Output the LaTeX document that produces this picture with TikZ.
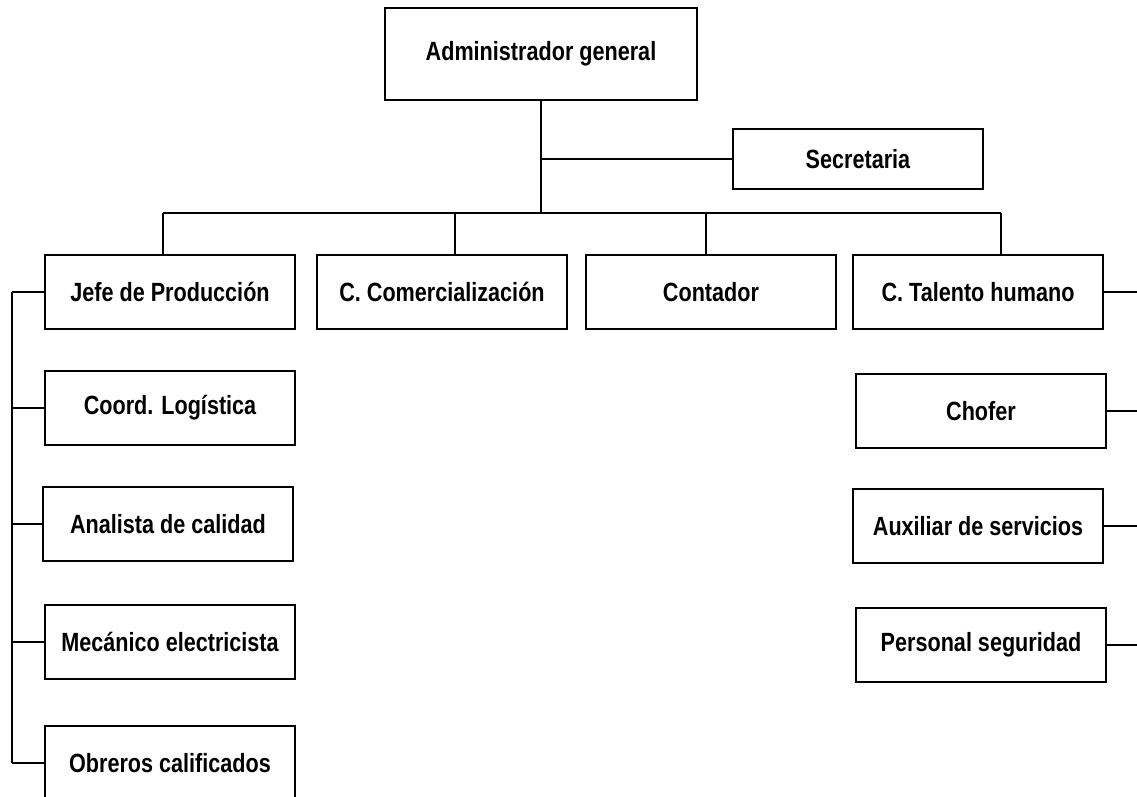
\documentclass[tikz,border=0pt]{standalone}
\usepackage{fontspec}
\setmainfont{Liberation Sans}[FakeStretch=0.82]
\begin{document}
\begin{tikzpicture}[x=0.02cm,y=-0.02cm,
    puesto/.style={draw,line width=1.1pt,inner sep=0pt,minimum width=5cm,
        minimum height=1.48cm,font=\fontsize{15}{18}\selectfont\bfseries},
    linea/.style={line width=1.1pt}]
        \clip (0,0) rectangle (1137,796);

        % Top level
        \node[puesto,minimum width=6.24cm,minimum height=1.84cm] (admin) at (541,54) {Administrador general};
        \node[puesto,minimum height=1.2cm] (secre) at (858,159) {Secretaria};

        % Second row
        \node[puesto] (jefe) at (170,292) {Jefe de Producción};
        \node[puesto] (comer) at (442,292) {C. Comercialización};
        \node[puesto] (conta) at (711,292) {Contador};
        \node[puesto] (talen) at (978,292) {C. Talento humano};

        % Left column
        \node[puesto] (coord) at (170,408) {Coord. Logística};
        \node[puesto] (anali) at (168,524) {Analista de calidad};
        \node[puesto] (mecan) at (170,642) {Mecánico electricista};
        \node[puesto] (obrer) at (170,763) {Obreros calificados};

        % Right column
        \node[puesto] (chofer) at (981,411) {Chofer};
        \node[puesto] (auxil) at (978,526) {Auxiliar de servicios};
        \node[puesto] (perso) at (981,645) {Personal seguridad};

        % Lines from the top
        \coordinate (busL) at (163,213);
        \coordinate (busR) at (1001,213);
        \draw[linea] (admin.south) -- (admin.south |- busL);
        \draw[linea] (admin.south |- secre.west) -- (secre.west);
        \draw[linea] (busL) -- (busR);
        \foreach \n/\x in {jefe/163,comer/455,conta/706,talen/1001}{
            \coordinate (b-\n) at (\x,213);
            \draw[linea] (b-\n) -- (b-\n |- \n.north);
        }

        % Left and right branches
        \coordinate (izq) at (12,292);
        \coordinate (der) at (1137,292);
        \draw[linea] (izq) -- (izq |- obrer.west);
        \foreach \n in {jefe,coord,anali,mecan,obrer}{
            \draw[linea] (\n.west) -- (\n.west -| izq);
        }
        \foreach \n in {talen,chofer,auxil,perso}{
            \draw[linea] (\n.east) -- (\n.east -| der);
        }

    \end{tikzpicture}
\end{document}
